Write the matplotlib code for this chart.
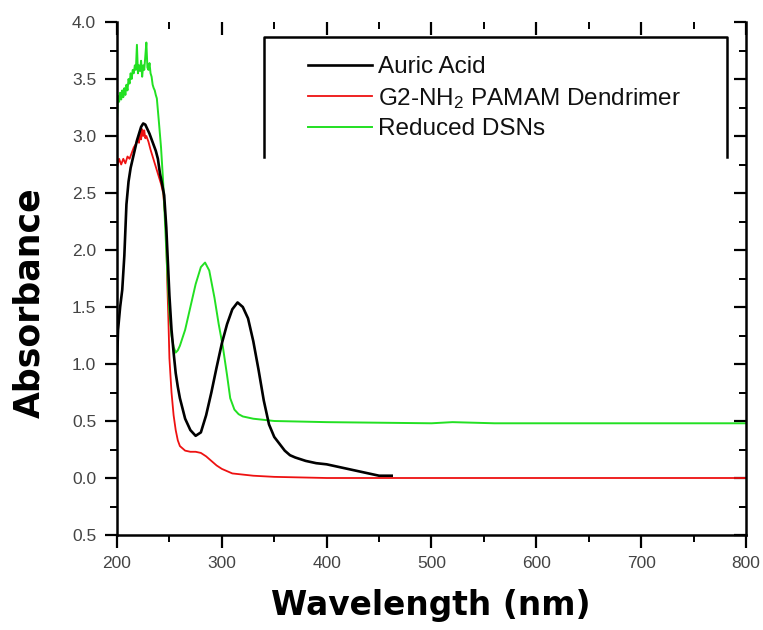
import matplotlib
matplotlib.use("Agg")
import matplotlib.pyplot as plt
from matplotlib.lines import Line2D
import numpy as np

plt.rcParams['font.family'] = ['Liberation Sans', 'DejaVu Sans']
plt.rcParams['mathtext.fontset'] = 'custom'
plt.rcParams['mathtext.rm'] = 'Liberation Sans'
plt.rcParams['mathtext.it'] = 'Liberation Sans'

# ---- data ----
auric_wl = [200, 201, 203, 205, 207, 209, 211, 213, 215, 217, 219, 221, 223, 225, 227, 229,
            231, 233, 235, 237, 239, 241, 243, 245, 247, 248, 250, 252, 254, 256, 258, 260,
            265, 270, 275, 280, 285, 290, 295, 300, 305, 310, 315, 320, 325, 330, 335, 340,
            345, 350, 355, 360, 365, 370, 380, 390, 400, 410, 420, 430, 440, 450, 462]
auric_abs = [1.00, 1.30, 1.50, 1.65, 1.95, 2.40, 2.60, 2.72, 2.80, 2.88, 2.96, 3.02, 3.08, 3.11, 3.10, 3.06,
             3.02, 2.97, 2.92, 2.87, 2.80, 2.67, 2.58, 2.48, 2.20, 2.00, 1.60, 1.30, 1.10, 0.92, 0.80, 0.70,
             0.52, 0.42, 0.37, 0.40, 0.55, 0.75, 0.97, 1.18, 1.35, 1.48, 1.54, 1.50, 1.40, 1.20, 0.95, 0.68,
             0.47, 0.36, 0.30, 0.24, 0.20, 0.18, 0.15, 0.13, 0.12, 0.10, 0.08, 0.06, 0.04, 0.02, 0.02]

pamam_wl = [200, 202, 204, 206, 208, 210, 212, 214, 216, 218, 220, 221, 222, 223, 224, 225, 226, 227,
            228, 230, 232, 234, 236, 238, 240, 242, 244, 246, 247, 248, 249, 250, 252, 254, 256,
            258, 260, 265, 270, 275, 280, 285, 290, 295, 300, 305, 310, 320, 330, 350, 400, 800]
pamam_abs = [2.72, 2.80, 2.75, 2.80, 2.76, 2.82, 2.80, 2.85, 2.90, 2.93, 2.98, 2.94, 3.03, 2.97, 3.06, 3.00, 3.05, 2.98,
             3.00, 2.95, 2.88, 2.82, 2.76, 2.70, 2.64, 2.58, 2.50, 2.30, 2.10, 1.70, 1.40, 1.05, 0.75, 0.55, 0.42,
             0.33, 0.28, 0.24, 0.23, 0.23, 0.22, 0.19, 0.15, 0.11, 0.08, 0.06, 0.04, 0.03, 0.02, 0.01, 0.00, 0.00]

dsn_wl = [200, 201, 202, 203, 204, 205, 206, 207, 208, 209, 210, 211, 212, 213, 214, 215, 216, 217,
          218, 219, 220, 221, 222, 223, 224, 225, 226, 227, 228, 229, 230, 231, 232, 233, 234, 235,
          236, 237, 238, 240, 242, 244, 246, 248, 250, 252, 254, 256, 258, 260, 265, 270, 275, 280,
          284, 288, 293, 297, 301, 305, 308, 312, 316, 320, 330, 350, 400, 500, 520, 560, 600, 700, 800]
dsn_abs = [3.15, 3.35, 3.30, 3.38, 3.32, 3.40, 3.34, 3.42, 3.36, 3.45, 3.40, 3.50, 3.46, 3.55, 3.50, 3.58, 3.55, 3.62,
           3.58, 3.80, 3.55, 3.62, 3.57, 3.66, 3.52, 3.62, 3.58, 3.70, 3.82, 3.60, 3.58, 3.64, 3.55, 3.52, 3.45, 3.42,
           3.40, 3.36, 3.33, 3.12, 2.90, 2.60, 2.20, 1.80, 1.45, 1.25, 1.15, 1.10, 1.12, 1.16, 1.30, 1.50, 1.70, 1.85,
           1.89, 1.82, 1.58, 1.35, 1.15, 0.90, 0.70, 0.60, 0.56, 0.54, 0.52, 0.50, 0.49, 0.48, 0.49, 0.48, 0.48, 0.48, 0.48]

series_labels = ['Auric Acid', r'G2-NH$_{2}$ PAMAM Dendrimer', 'Reduced DSNs']
x_ticks = [200, 300, 400, 500, 600, 700, 800]
x_ticklabels = ['200', '300', '400', '500', '600', '700', '800']
y_ticks = [-0.5, 0.0, 0.5, 1.0, 1.5, 2.0, 2.5, 3.0, 3.5, 4.0]
y_ticklabels = ['0.5', '0.0', '0.5', '1.0', '1.5', '2.0', '2.5', '3.0', '3.5', '4.0']

# ---- figure ----
W, H = 763, 630
fig = plt.figure(figsize=(W / 100, H / 100), dpi=100)
L, R, B, T = 117, 746, 535, 22
ax = fig.add_axes([L / W, 1 - B / H, (R - L) / W, (B - T) / H])

ax.plot(auric_wl, auric_abs, color='black', lw=1.9, label=series_labels[0], zorder=3)
ax.plot(pamam_wl, pamam_abs, color='#ee1111', lw=1.3, label=series_labels[1], zorder=2)
ax.plot(dsn_wl, dsn_abs, color='#22e022', lw=1.4, label=series_labels[2], zorder=2)

ax.set_xlim(200, 800)
ax.set_ylim(-0.5, 4.0)
ax.set_xticks(x_ticks)
ax.set_xticklabels(x_ticklabels)
ax.set_yticks(y_ticks)
ax.set_yticklabels(y_ticklabels)
ax.set_xticks(np.arange(250, 800, 100), minor=True)
ax.set_yticks(np.arange(-0.25, 4.0, 0.5), minor=True)

ax.tick_params(axis='both', which='major', direction='out', length=9, width=1.6,
               labelsize=12.5, labelcolor='#444444', pad=6)
ax.tick_params(axis='both', which='minor', direction='out', length=5, width=1.4)
ax.tick_params(axis='x', which='both', top=True)
ax.tick_params(axis='y', which='both', right=True)
for s in ['left', 'bottom', 'right']:
    ax.spines[s].set_linewidth(1.8)
ax.spines['top'].set_visible(False)

# top / right ticks point inward
for t in ax.xaxis.get_major_ticks() + ax.xaxis.get_minor_ticks():
    t.tick2line.set_marker(3)
for t in ax.yaxis.get_major_ticks() + ax.yaxis.get_minor_ticks():
    t.tick2line.set_marker(0)

fig.text(271 / W, 1 - 615 / H, 'Wavelength (nm)', ha='left', va='baseline',
         fontsize=23.7, fontweight='bold', family='DejaVu Sans')
fig.text(29 / W, 1 - 303 / H, 'Absorbance', ha='center', va='center',
         rotation=90, fontsize=25, fontweight='bold', family='DejaVu Sans')

leg = ax.legend(loc='upper left', bbox_to_anchor=(308 / W, 1 - 56 / H),
                bbox_transform=fig.transFigure, frameon=False, fontsize=17.5,
                handlelength=2.63, handletextpad=0.25, labelspacing=0.32,
                borderpad=0, borderaxespad=0)
for t in leg.get_texts():
    t.set_color('#111111')

# open-bottomed legend box
bx0, bx1, by0, by1 = 264 / W, 727 / W, 1 - 157 / H, 1 - 37 / H
fig.add_artist(Line2D([bx0, bx0, bx1, bx1], [by0, by1, by1, by0],
                      transform=fig.transFigure, color='black', lw=1.8))

fig.savefig('out.png', dpi=100)
